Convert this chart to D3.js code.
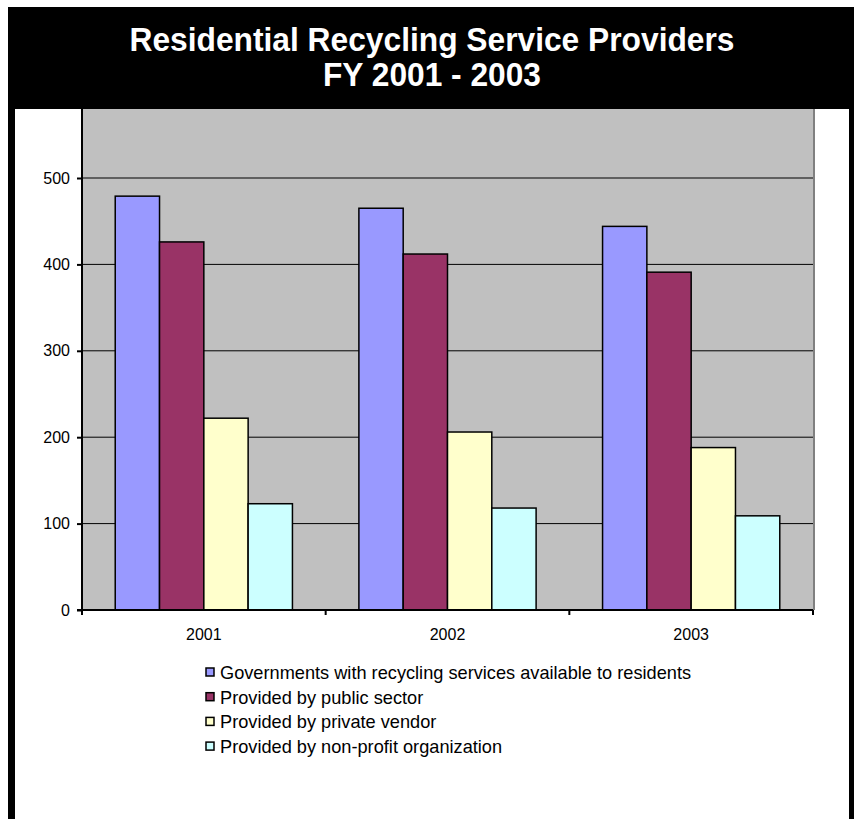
<!DOCTYPE html>
<html lang="en">
<head>
  <meta charset="UTF-8">
  <title>Residential Recycling Service Providers FY 2001 - 2003</title>
  <script src="https://d3js.org/d3.v7.min.js"></script>
  <style>
    body {
      margin: 0;
      background: #fff;
      font-family: Arial, "Liberation Sans", sans-serif;
    }
  </style>
</head>
<body>
<div id="chart"></div>

<script>
  var years = ["2001", "2002", "2003"];
  var seriesNames = [
    "Governments with recycling services available to residents",
    "Provided by public sector",
    "Provided by private vendor",
    "Provided by non-profit organization"
  ];
  var governments = [479, 465, 444];
  var publicSector = [426, 412, 391];
  var privateVendor = [222, 206, 188];
  var nonProfit = [123, 118, 109];
  var yTicks = [0, 100, 200, 300, 400, 500];
  var colors = ["#9999FF", "#993366", "#FFFFCC", "#CCFFFF"];

  var allSeries = [governments, publicSector, privateVendor, nonProfit];

  var width = 859, height = 819;
  var font = "Arial, 'Liberation Sans', sans-serif";
  var svg = d3.select("#chart").append("svg")
    .attr("width", width)
    .attr("height", height);

  // frame
  svg.append("rect")
    .attr("x", 8).attr("y", 7)
    .attr("width", 846).attr("height", height)
    .attr("rx", 2)
    .attr("fill", "#000");
  svg.append("rect")
    .attr("x", 15).attr("y", 109)
    .attr("width", 834).attr("height", height)
    .attr("fill", "#fff");

  var plot = { left: 82, right: 813, bottom: 610 };

  var x0 = d3.scaleBand()
    .domain(years)
    .range([plot.left, plot.right]);

  var x1 = d3.scaleBand()
    .domain(d3.range(seriesNames.length))
    .range([0, x0.bandwidth()])
    .paddingOuter(0.75);

  var y = d3.scaleLinear()
    .domain([0, 600])
    .range([plot.bottom, plot.bottom - 600 * 0.864]);

  var g = svg.append("g");

  // plot background
  g.append("rect")
    .attr("x", plot.left)
    .attr("y", y(600))
    .attr("width", plot.right - plot.left)
    .attr("height", y(0) - y(600))
    .attr("fill", "#C0C0C0");

  g.append("line")
    .attr("x1", plot.right + 1).attr("x2", plot.right + 1)
    .attr("y1", y(600)).attr("y2", y(0))
    .attr("stroke", "#808080")
    .attr("stroke-width", 2);

  // gridlines
  g.selectAll(".grid")
    .data(yTicks.filter(d => d > 0))
    .enter().append("line")
    .attr("x1", plot.left).attr("x2", plot.right)
    .attr("y1", d => y(d)).attr("y2", d => y(d))
    .attr("stroke", "#000")
    .attr("stroke-width", 1);

  // bars
  var groups = g.selectAll(".year")
    .data(years)
    .enter().append("g")
    .attr("transform", d => "translate(" + x0(d) + ",0)");

  groups.selectAll("rect")
    .data((d, i) => allSeries.map((s, j) => ({ s: j, v: s[i] })))
    .enter().append("rect")
    .attr("x", d => x1(d.s))
    .attr("y", d => y(d.v))
    .attr("width", x1.bandwidth())
    .attr("height", d => y(0) - y(d.v))
    .attr("fill", d => colors[d.s])
    .attr("stroke", "#000")
    .attr("stroke-width", 1.5);

  // y axis
  var yAxis = g.append("g")
    .attr("transform", "translate(" + plot.left + ",0)")
    .call(d3.axisLeft(y).tickValues(yTicks).tickSize(5).tickPadding(7));
  yAxis.select(".domain").remove();
  yAxis.append("line")
    .attr("x1", 0).attr("x2", 0)
    .attr("y1", y(600)).attr("y2", y(0))
    .attr("stroke", "#000").attr("stroke-width", 2);
  yAxis.selectAll(".tick line").attr("stroke", "#000").attr("stroke-width", 2);
  yAxis.selectAll("text")
    .attr("font-family", font)
    .attr("font-size", 16)
    .attr("fill", "#000");

  // x axis
  var xAxis = g.append("g")
    .attr("transform", "translate(0," + plot.bottom + ")")
    .call(d3.axisBottom(x0).tickSize(0).tickPadding(19));
  xAxis.select(".domain").remove();
  xAxis.append("line")
    .attr("x1", plot.left - 5).attr("x2", plot.right)
    .attr("stroke", "#000").attr("stroke-width", 2);
  xAxis.selectAll(".sep")
    .data(years.map(d => x0(d)).concat([plot.right]))
    .enter().append("line")
    .attr("x1", d => d).attr("x2", d => d)
    .attr("y1", 0).attr("y2", 5)
    .attr("stroke", "#000").attr("stroke-width", 2);
  xAxis.selectAll("text")
    .attr("font-family", font)
    .attr("font-size", 16)
    .attr("fill", "#000");

  // title bar drawn over the top of the plot
  svg.append("rect")
    .attr("x", 8).attr("y", 7)
    .attr("width", 846).attr("height", 102)
    .attr("fill", "#000");
  var title = svg.append("text")
    .attr("text-anchor", "middle")
    .attr("fill", "#fff")
    .attr("font-family", font)
    .attr("font-weight", "bold")
    .attr("font-size", 33);
  title.append("tspan").attr("x", 432).attr("y", 51)
    .attr("textLength", 605).attr("lengthAdjust", "spacingAndGlyphs")
    .text("Residential Recycling Service Providers");
  title.append("tspan").attr("x", 432).attr("y", 86)
    .attr("textLength", 218).attr("lengthAdjust", "spacingAndGlyphs")
    .text("FY 2001 - 2003");

  // legend
  var legend = svg.append("g")
    .attr("transform", "translate(206,673)");
  var items = legend.selectAll("g")
    .data(seriesNames)
    .enter().append("g")
    .attr("transform", (d, i) => "translate(0," + i * 24.7 + ")");
  items.append("rect")
    .attr("x", 0).attr("y", -5)
    .attr("width", 8).attr("height", 8)
    .attr("fill", (d, i) => colors[i])
    .attr("stroke", "#000")
    .attr("stroke-width", 1.5);
  items.append("text")
    .attr("x", 14)
    .attr("y", 6)
    .attr("font-family", font)
    .attr("font-size", 18.2)
    .attr("fill", "#000")
    .text(d => d);
</script>
</body>
</html>
